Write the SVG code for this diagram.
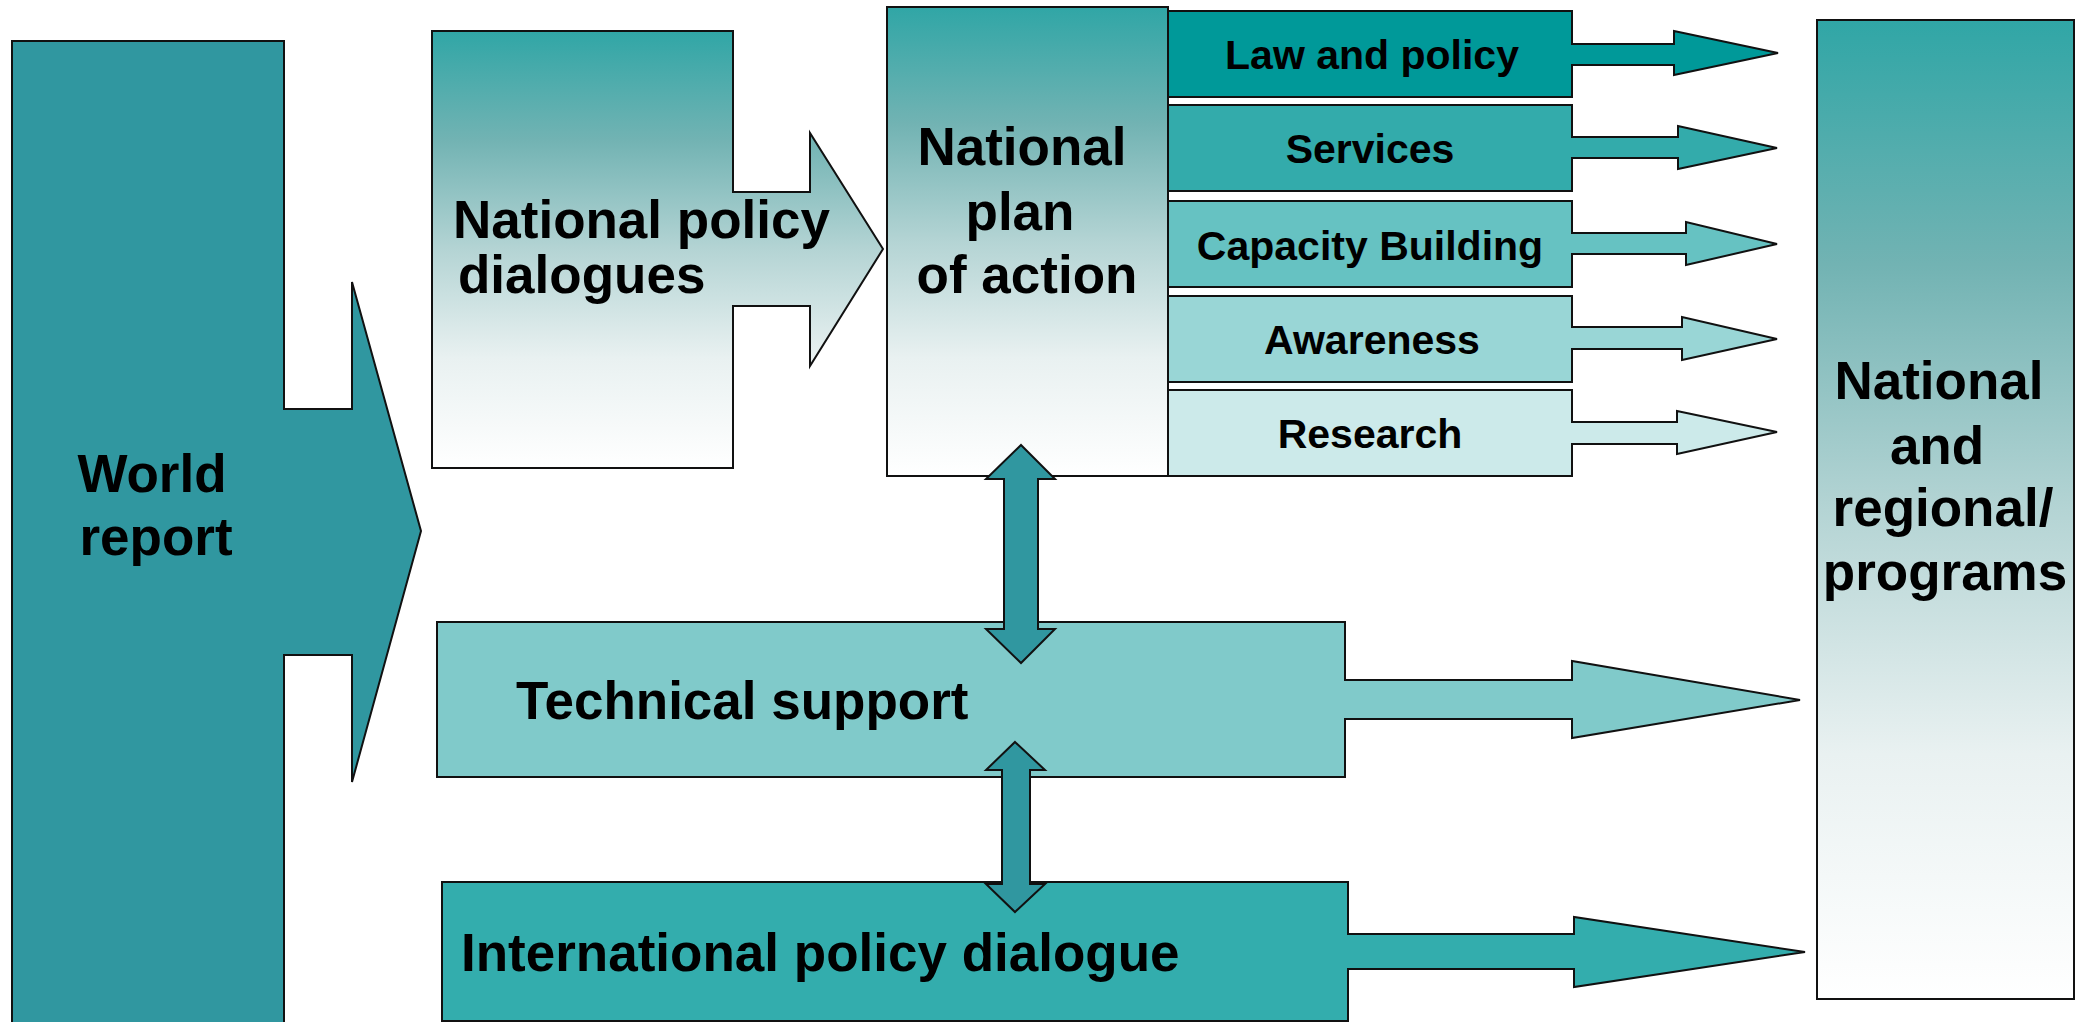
<svg xmlns="http://www.w3.org/2000/svg" width="2085" height="1022" viewBox="0 0 2085 1022">
<defs>
<linearGradient id="tealFade" x1="0" y1="0" x2="0" y2="1">
<stop offset="0" stop-color="#30a6a6"/>
<stop offset="0.25" stop-color="#72b3b3"/>
<stop offset="0.5" stop-color="#b4d4d4"/>
<stop offset="0.75" stop-color="#e9f1f1"/>
<stop offset="1" stop-color="#ffffff"/>
</linearGradient>
</defs>
<style>
.shape{stroke:#111;stroke-width:2;stroke-linejoin:miter}
.big{font-family:"Liberation Sans",Arial,sans-serif;font-weight:bold;font-size:53px;fill:#000}
.bar{font-family:"Liberation Sans",Arial,sans-serif;font-weight:bold;font-size:41px;fill:#000;text-anchor:middle}
.mid{text-anchor:middle}
</style>
<rect width="2085" height="1022" fill="#ffffff"/>
<g id="world-report">
<polygon class="shape" fill="#3097a0" points="12,41 284,41 284,409 352,409 352,282 421,531 352,782 352,655 284,655 284,1030 12,1030"/>
<text class="big mid" x="152" y="492">World</text>
<text class="big mid" x="156" y="555">report</text>
</g>
<g id="national-policy-dialogues">
<polygon class="shape" fill="url(#tealFade)" points="432,31 733,31 733,192 810,192 810,133 883,249 810,366 810,306 733,306 733,468 432,468"/>
<text class="big" x="453" y="238">National policy</text>
<text class="big" x="458" y="293">dialogues</text>
</g>
<g id="national-plan-of-action">
<rect class="shape" fill="url(#tealFade)" x="887" y="7" width="281" height="469"/>
<text class="big mid" x="1022" y="165">National</text>
<text class="big mid" x="1020" y="230">plan</text>
<text class="big mid" x="1027" y="293">of action</text>
</g>
<g id="law-and-policy">
<polygon class="shape" fill="#009999" points="1168,11 1572,11 1572,44 1674,44 1674,31 1778,53 1674,75 1674,65 1572,65 1572,97 1168,97"/>
<text class="bar" x="1372" y="69">Law and policy</text>
</g>
<g id="services">
<polygon class="shape" fill="#33abab" points="1168,105 1572,105 1572,137 1678,137 1678,126 1777,148 1678,169 1678,158 1572,158 1572,191 1168,191"/>
<text class="bar" x="1370" y="163">Services</text>
</g>
<g id="capacity-building">
<polygon class="shape" fill="#66c2c2" points="1168,201 1572,201 1572,233 1686,233 1686,222 1777,244 1686,265 1686,254 1572,254 1572,287 1168,287"/>
<text class="bar" x="1370" y="260">Capacity Building</text>
</g>
<g id="awareness">
<polygon class="shape" fill="#99d6d6" points="1168,296 1572,296 1572,327 1682,327 1682,317 1777,339 1682,360 1682,349 1572,349 1572,382 1168,382"/>
<text class="bar" x="1372" y="354">Awareness</text>
</g>
<g id="research">
<polygon class="shape" fill="#cceaea" points="1168,390 1572,390 1572,422 1677,422 1677,411 1777,432 1677,454 1677,444 1572,444 1572,476 1168,476"/>
<text class="bar" x="1370" y="448">Research</text>
</g>
<g id="technical-support">
<polygon class="shape" fill="#80caca" points="437,622 1345,622 1345,680 1572,680 1572,661 1800,700 1572,738 1572,719 1345,719 1345,777 437,777"/>
<text class="big" x="516" y="719">Technical support</text>
</g>
<g id="international-policy-dialogue">
<polygon class="shape" fill="#33adad" points="442,882 1348,882 1348,934 1574,934 1574,917 1805,952 1574,987 1574,969 1348,969 1348,1021 442,1021"/>
<text class="big" x="461" y="971">International policy dialogue</text>
</g>
<g id="national-and-regional-programs">
<rect class="shape" fill="url(#tealFade)" x="1817" y="20" width="257" height="979"/>
<text class="big mid" x="1939" y="399">National</text>
<text class="big mid" x="1937" y="464">and</text>
<text class="big mid" x="1943" y="526">regional/</text>
<text class="big mid" x="1945" y="590">programs</text>
</g>
<g id="connectors">
<polygon class="shape" fill="#3097a0" points="1021,445 1055,479 1038,479 1038,629 1055,629 1021,663 986,629 1004,629 1004,479 986,479"/>
<polygon class="shape" fill="#3097a0" points="1015,742 1045,770 1030,770 1030,884 1045,884 1015,912 986,884 1002,884 1002,770 986,770"/>
</g>
</svg>
